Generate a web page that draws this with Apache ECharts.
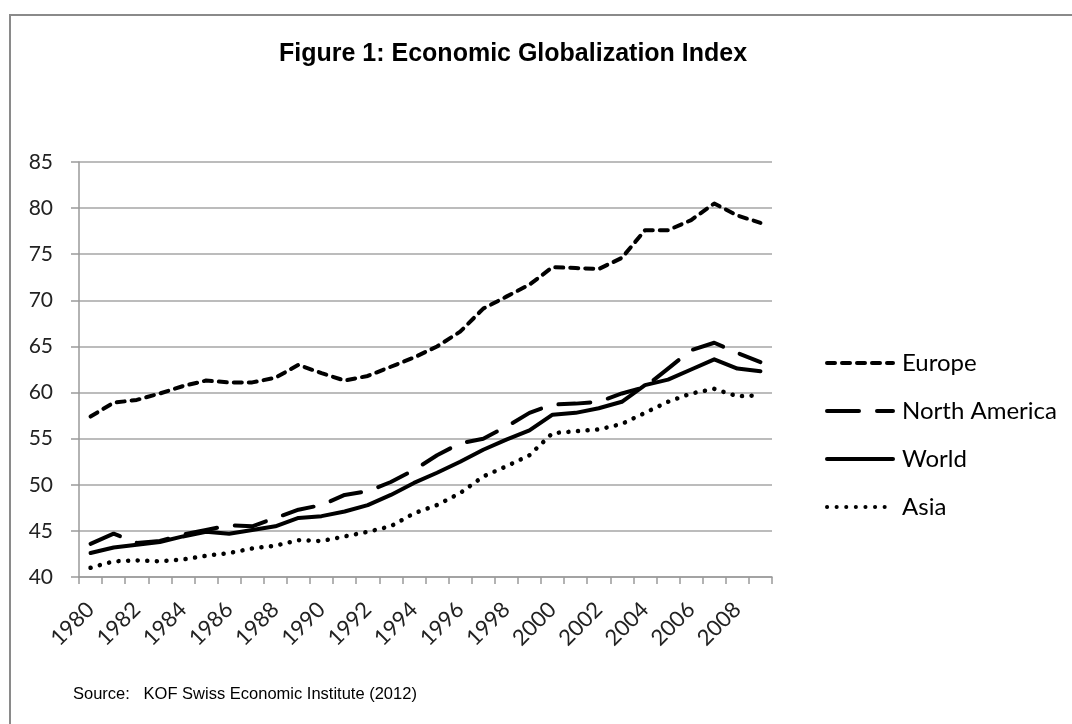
<!DOCTYPE html>
<html>
<head>
<meta charset="utf-8">
<script src="https://cdn.jsdelivr.net/npm/echarts@6/dist/echarts.min.js"></script>
<style>
html,body{margin:0;padding:0;background:#fff;}
#chart{width:1072px;height:724px;}
</style>
</head>
<body>
<div id="chart"></div>
<script>
const years = ['1980','1981','1982','1983','1984','1985','1986','1987','1988','1989',
  '1990','1991','1992','1993','1994','1995','1996','1997','1998','1999',
  '2000','2001','2002','2003','2004','2005','2006','2007','2008','2009'];
const europe = [57.4,58.9,59.2,59.9,60.7,61.3,61.1,61.1,61.6,63.0,
  62.1,61.3,61.8,62.8,63.8,65.0,66.6,69.1,70.4,71.7,
  73.6,73.5,73.4,74.6,77.6,77.6,78.7,80.5,79.2,78.4];
const northAmerica = [43.6,44.7,43.7,43.9,44.6,45.1,45.6,45.5,46.4,47.3,
  47.8,48.9,49.3,50.3,51.6,53.2,54.5,55.0,56.3,57.8,
  58.7,58.8,59.0,59.9,60.6,62.6,64.6,65.4,64.3,63.3];
const world = [42.6,43.2,43.5,43.8,44.4,44.9,44.7,45.1,45.5,46.4,
  46.6,47.1,47.8,48.9,50.2,51.3,52.5,53.8,54.9,55.9,
  57.6,57.8,58.3,59.0,60.8,61.4,62.5,63.6,62.6,62.3];
const asia = [41.0,41.7,41.8,41.7,41.9,42.3,42.6,43.1,43.4,44.0,
  43.9,44.4,44.9,45.5,46.9,47.8,49.1,50.9,52.0,53.2,
  55.6,55.8,56.0,56.6,57.8,59.0,59.9,60.4,59.6,59.7];
const yTicks = {min: 40, max: 85, interval: 5};

const chart = echarts.init(document.getElementById('chart'), null, {renderer: 'canvas'});
function mk(name, data, type, w) {
  return {
    name: name, type: 'line', data: data, symbol: 'none', smooth: false,
    lineStyle: {color: '#000', width: w, type: type, cap: 'round', join: 'round'},
    itemStyle: {color: '#000'},
    emphasis: {disabled: true}
  };
}
chart.setOption({
  animation: false,
  backgroundColor: '#fff',
  graphic: [{
    type: 'rect', shape: {x: 10, y: 15, width: 1200, height: 900},
    style: {fill: 'none', stroke: '#8a8a8a', lineWidth: 2}, silent: true
  }],
  title: [{
    text: 'Figure 1: Economic Globalization Index',
    left: 274, top: 37,
    textStyle: {fontFamily: 'Liberation Sans, Arial', fontWeight: 'bold', fontSize: 25, color: '#000'}
  }, {
    text: 'Source:   KOF Swiss Economic Institute (2012)',
    left: 68, top: 681,
    textStyle: {fontFamily: 'Liberation Sans, Arial', fontWeight: 'normal', fontSize: 16.5, color: '#000'}
  }],
  legend: {
    orient: 'vertical', left: 820, top: 346,
    itemWidth: 66, itemHeight: 14, itemGap: 24,
    itemStyle: {opacity: 0},
    lineStyle: {width: 4, cap: 'round'},
    textStyle: {fontFamily: 'Lato, Open Sans', fontSize: 24, color: '#000', padding: [0, 0, 0, 4]},
    data: ['Europe', 'North America', 'World', 'Asia']
  },
  grid: {left: 79, right: 300, top: 162, bottom: 147},
  xAxis: {
    type: 'category', data: years, boundaryGap: true,
    axisLine: {lineStyle: {color: '#9a9a9a', width: 1.5}},
    axisTick: {show: true, interval: 0, length: 7, lineStyle: {color: '#9a9a9a', width: 1.5}},
    axisLabel: {interval: 1, rotate: 45, fontFamily: 'Lato, Open Sans', fontSize: 22, color: '#222', margin: 29},
    splitLine: {show: false}
  },
  yAxis: {
    type: 'value', min: yTicks.min, max: yTicks.max, interval: yTicks.interval,
    axisLine: {show: true, lineStyle: {color: '#9a9a9a', width: 1.5}},
    axisTick: {show: true, length: 8, lineStyle: {color: '#9a9a9a', width: 1.5}},
    axisLabel: {fontFamily: 'Lato, Open Sans', fontSize: 21, color: '#222', margin: 26},
    splitLine: {lineStyle: {color: '#a6a6a6', width: 1.5}}
  },
  series: [
    mk('Europe', europe, [8, 7], 4),
    mk('North America', northAmerica, [32, 18], 4),
    mk('World', world, 'solid', 4),
    mk('Asia', asia, [0.1, 9.5], 4.5)
  ]
});
</script>
</body>
</html>
